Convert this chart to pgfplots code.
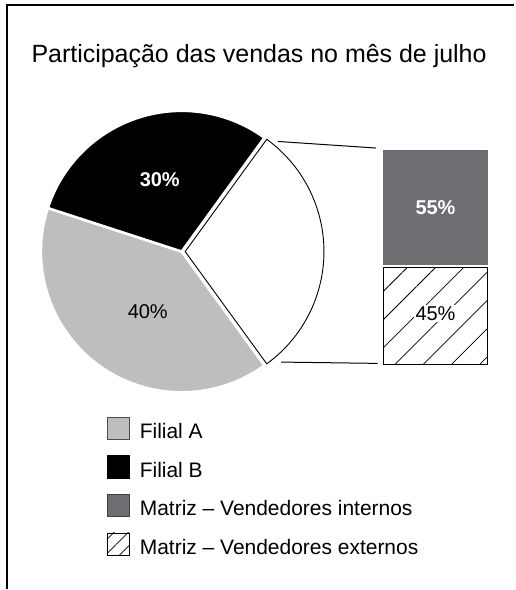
\documentclass[border=0pt]{standalone}
\usepackage{pgfplots}
\pgfplotsset{compat=1.18}
\usepackage{pgfplotstable}
\usepackage{fontspec}
\setmainfont{Liberation Sans}
\usetikzlibrary{patterns.meta}
\definecolor{cLight}{HTML}{BCBEC0}
\definecolor{cDark}{HTML}{6D6E71}

\pgfplotstableread{
part value
FilialA 40
FilialB 30
Matriz 30
}\piedata
\pgfplotstableread{
x ext int
0 45 55
}\bardata

\begin{document}
\begin{tikzpicture}
\pgfplotstablegetelem{0}{value}\of\piedata \let\vA\pgfplotsretval
\pgfplotstablegetelem{1}{value}\of\piedata \let\vB\pgfplotsretval
\pgfplotstablegetelem{2}{value}\of\piedata \let\vM\pgfplotsretval
\pgfmathsetmacro\aMs{-1.8*\vM}
\pgfmathsetmacro\aMe{1.8*\vM}
\pgfmathsetmacro\aBe{\aMe+3.6*\vB}
\pgfmathsetmacro\aAe{\aBe+3.6*\vA}
\begin{axis}[at={(0pt,0pt)}, anchor=south west, scale only axis,
  width=515pt, height=590pt, xmin=0, xmax=515, ymin=0, ymax=590,
  hide axis, clip=false,
  legend style={at={(0.2072,0.2927)}, anchor=north west, draw=none, fill=none,
    inner sep=0pt, outer sep=0pt, row sep=11.7pt,
    font=\fontsize{21}{25}\selectfont,
    cells={anchor=base west}, nodes={inner sep=0pt, text depth=0pt}},
  legend image code/.code={\pgfpathrectangle{\pgfpoint{0pt}{-5pt}}{\pgfpoint{33pt}{27pt}}\pgfusepath{}%
    \draw[#1] (0pt,-1pt) rectangle (23pt,21.6pt);}
]
\path (0,0) rectangle (515,590);
% frame
\draw[line width=2pt] (7,0) -- (7,585) -- (515,585);
% title
\node[anchor=base, font=\fontsize{25}{30}\selectfont] at (259.5,527) {Participação das vendas no mês de julho};
% pie
\filldraw[fill=cLight, draw=white, line width=2.6pt] (182,338) -- ++(\aBe:141pt) arc[start angle=\aBe, end angle=\aAe, radius=141pt] -- cycle;
\filldraw[fill=black, draw=white, line width=2.6pt] (182,338) -- ++(\aMe:141pt) arc[start angle=\aMe, end angle=\aBe, radius=141pt] -- cycle;
\filldraw[fill=white, draw=black, line width=0.9pt] (185.5,338) -- ++(\aMs:139pt) arc[start angle=\aMs, end angle=\aMe, radius=139pt] -- cycle;
\node[text=white, font=\fontsize{20}{24}\selectfont\bfseries] at (160,410) {30\%};
\node[font=\fontsize{20}{24}\selectfont] at (148,278.3) {40\%};
% connectors
\draw[line width=1pt] (278.3,448.3) -- (376.7,441.7);
\draw[line width=1pt] (281.7,227.3) -- (378.3,226);
% legend
\addlegendimage{fill=cLight, draw=black!70, line width=0.7pt}
\addlegendentry{Filial A}
\addlegendimage{fill=black, draw=black, line width=0.7pt}
\addlegendentry{Filial B}
\addlegendimage{fill=cDark, draw=black!75, line width=0.7pt}
\addlegendentry{Matriz -- Vendedores internos}
\addlegendimage{pattern={Lines[angle=45,distance=10pt,line width=0.7pt]}, draw=black, line width=0.7pt}
\addlegendentry{Matriz -- Vendedores externos}
\end{axis}
\begin{axis}[at={(384pt,225pt)}, anchor=south west, scale only axis,
  width=104.5pt, height=215pt, xmin=-0.5, xmax=0.5, ymin=0, ymax=100,
  hide axis, clip=false, ybar stacked, bar width=1]
% (stacked plots are drawn in reverse order, so these come out on top)
\draw[white, line width=2pt] ([yshift=1.6pt]axis cs:-0.5,45) -- ([yshift=1.6pt]axis cs:0.5,45);
\node[fill=white, inner sep=1.5pt, font=\fontsize{20}{24}\selectfont] at (axis cs:0,23.5) {45\%};
\node[text=white, font=\fontsize{20}{24}\selectfont\bfseries] at (axis cs:0,73) {55\%};
\addplot[draw=black, line width=0.9pt, pattern={Lines[angle=45,distance=20pt,line width=0.8pt]}] table[x=x,y=ext]{\bardata};
\addplot[fill=cDark, draw=none] table[x=x,y=int]{\bardata};
\end{axis}
\end{tikzpicture}
\end{document}
